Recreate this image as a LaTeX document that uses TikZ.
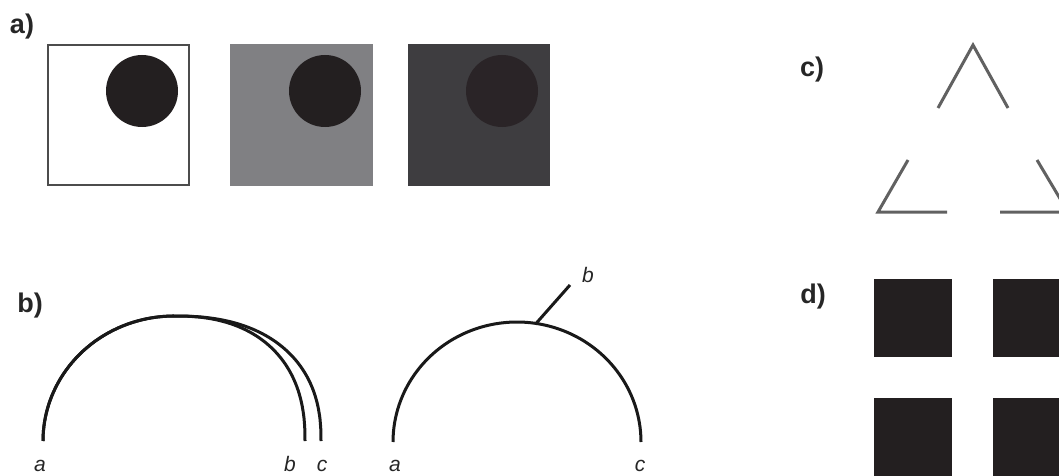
\documentclass[tikz,border=0pt]{standalone}
\usepackage{fontspec}
\setmainfont{Liberation Sans}
\begin{document}
\begin{tikzpicture}[x=1pt,y=-1pt,
  panellabel/.style={font=\fontsize{27}{30}\selectfont\bfseries, inner sep=0pt, text=black!85},
  ptlabel/.style={font=\fontsize{21}{24}\selectfont\itshape, inner sep=0pt, text=black!85},
  curve/.style={line width=3pt, draw=black!90},
  triline/.style={line width=3pt, draw=black!62},
  dot/.style={fill=darkdot}]
\definecolor{darkdot}{HTML}{231F20}
\definecolor{midgrey}{HTML}{808083}
\definecolor{darkgrey}{HTML}{3E3D40}
\definecolor{dot3}{HTML}{2A2427}
\useasboundingbox (0,0) rectangle (1059,476);
\clip (0,0) rectangle (1059,476);
% ---------- a)
\node[panellabel] (la) at (22,27) {a)};
\draw[line width=2pt, draw=black!70, fill=white] (48,45) rectangle (189,185);
\fill[dot] (142,91) circle (36);
\fill[midgrey] (230,44) rectangle (373,186);
\fill[dot] (325,91) circle (36);
\fill[darkgrey] (408,44) rectangle (550,186);
\fill[dot3] (502,91) circle (36);
% ---------- b)
\node[panellabel] (lb) at (30,306) {b)};
\draw[curve] plot[domain=180:90, samples=40] ({174+131*cos(\x)},{441-125*sin(\x)})
   -- plot[domain=90:0, samples=50] ({174+131*pow(abs(cos(\x)),0.85)},{441-125*pow(abs(sin(\x)),0.85)});
\draw[curve] plot[domain=180:90, samples=40] ({174+131*cos(\x)},{441-125*sin(\x)})
   -- plot[domain=90:0, samples=50] ({174+147*pow(abs(cos(\x)),0.85)},{441-125*pow(abs(sin(\x)),0.85)});
\node[ptlabel] (ba1) at (40,466) {a};
\node[ptlabel] (bb1) at (290,464) {b};
\node[ptlabel] (bc1) at (322,466) {c};
\draw[curve] plot[domain=180:0, samples=80] ({517+124*cos(\x)},{442-120*sin(\x)});
\coordinate (sp1) at (536,323.5);
\coordinate (sp2) at (570,285);
\draw[curve] (sp1) -- (sp2);
\node[ptlabel] (bb2) at (588,275) {b};
\node[ptlabel] (ba2) at (395,466) {a};
\node[ptlabel] (bc2) at (640,466) {c};
% ---------- c)
\node[panellabel] (lc) at (812,70) {c)};
\draw[triline] (938,108) -- (973,45) -- (1008,108);
\draw[triline] (908,160) -- (878,212) -- (947,212);
\draw[triline] (1037,160) -- (1068,212) -- (1000,212);
% ---------- d)
\node[panellabel] (ld) at (813,297) {d)};
\fill[dot] (874,279) rectangle (952,357);
\fill[dot] (993,279) rectangle (1071,357);
\fill[dot] (874,398) rectangle (952,476);
\fill[dot] (993,398) rectangle (1071,476);
\end{tikzpicture}
\end{document}
